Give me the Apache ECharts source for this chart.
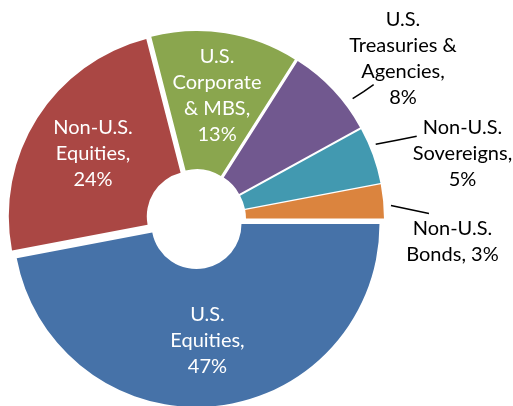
<!DOCTYPE html>
<html>
<head>
<meta charset="utf-8">
<script src="https://cdn.jsdelivr.net/npm/echarts@6/dist/echarts.min.js"></script>
<style>
  html, body { margin: 0; padding: 0; background: #fff; }
  #chart { width: 513px; height: 406px; }
</style>
</head>
<body>
<div id="chart"></div>
<script>
// asset allocation slices, clockwise from 3 o'clock
const categories = ['U.S. Equities', 'Non-U.S. Equities', 'U.S. Corporate & MBS', 'U.S. Treasuries & Agencies', 'Non-U.S. Sovereigns', 'Non-U.S. Bonds'];
const labelTexts = ['U.S.\nEquities,\n', 'Non-U.S.\nEquities,\n', 'U.S.\nCorporate\n& MBS,\n', 'U.S.\nTreasuries &\nAgencies,\n', 'Non-U.S.\nSovereigns,\n', 'Non-U.S.\nBonds, '];
const values = [47, 24, 13, 8, 5, 3];
const colors = ['#4672A8', '#AA4744', '#8AA64E', '#71588F', '#4299B0', '#DB843E'];

// label nudges from the default spot, and leader lines for the outside labels
const labelShift = [[0, 0], [0, 0], [2, -3], [24, -21], [38, -21], [25, -1]];
const leaderLines = {
  3: [[349, 102], [360, 95], [370, 88]],
  4: [[371, 146], [392, 142], [412, 138]],
  5: [[386, 206], [405, 210], [424, 214]]
};

const chart = echarts.init(document.getElementById('chart'));

const data = categories.map((name, i) => {
  const item = {
    name: name,
    value: values[i],
    selected: true,
    itemStyle: { color: colors[i] }
  };
  if (leaderLines[i]) {
    item.label = { position: 'outside', color: '#000', alignTo: 'none', overflow: 'none', bleedMargin: 0 };
    item.labelLine = { show: true, lineStyle: { color: '#000', width: 1.5 } };
  }
  return item;
});

const option = {
  animation: false,
  series: [{
    type: 'pie',
    center: [196, 219],
    radius: [45, 183],
    startAngle: 0,
    clockwise: true,
    selectedMode: 'multiple',
    selectedOffset: 5,
    emphasis: { disabled: true },
    label: {
      show: true,
      position: 'inside',
      color: '#fff',
      fontFamily: 'Lato',
      fontSize: 20,
      lineHeight: 26,
      align: 'center',
      overflow: 'none',
      formatter: function (p) {
        return labelTexts[p.dataIndex] + p.value + '%';
      }
    },
    labelLine: { show: false },
    labelLayout: function (params) {
      const i = params.dataIndex;
      const out = { dx: labelShift[i][0], dy: labelShift[i][1] };
      if (leaderLines[i]) {
        out.align = 'center';
        out.labelLinePoints = leaderLines[i];
      }
      return out;
    },
    data: data
  }]
};

chart.setOption(option);
</script>
</body>
</html>
